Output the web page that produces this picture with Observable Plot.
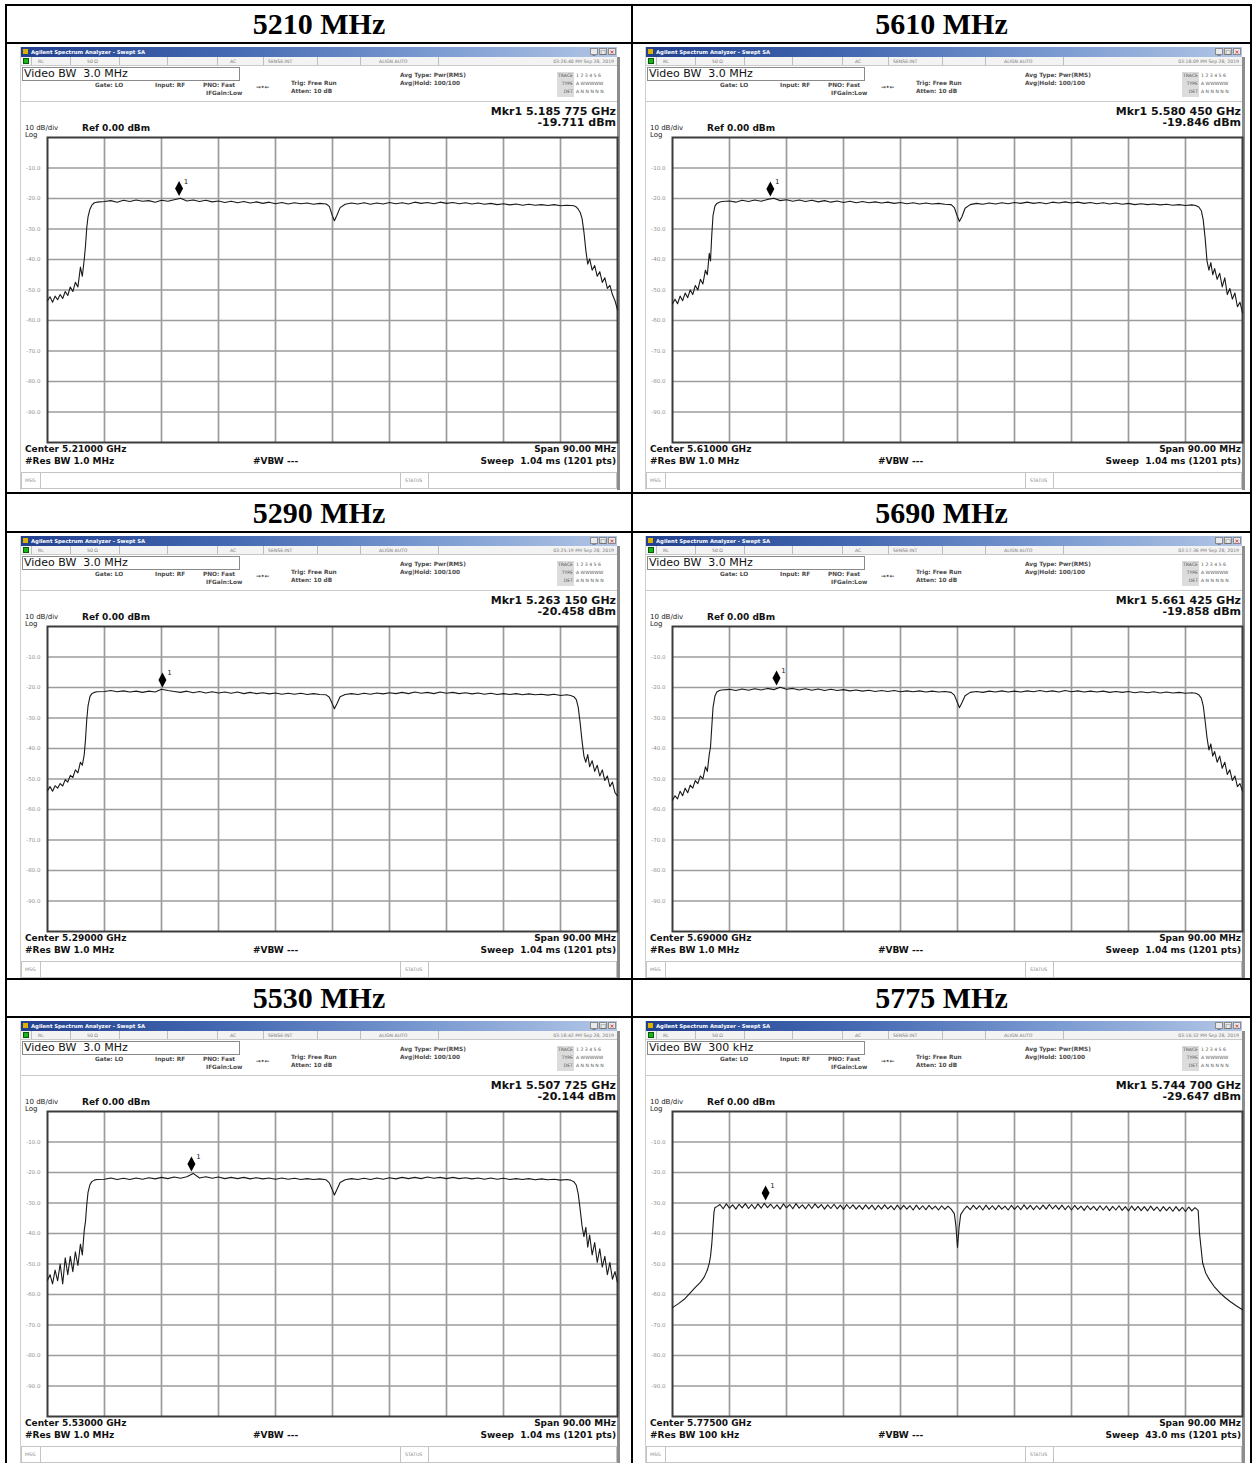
<!DOCTYPE html>
<html>
<head>
<meta charset="utf-8">
<script src="https://cdn.jsdelivr.net/npm/d3@7"></script>
<script src="https://cdn.jsdelivr.net/npm/@observablehq/plot@0.6"></script>
<style>
html,body{margin:0;padding:0;background:#fff;}
#page{position:relative;width:1253px;height:1463px;overflow:hidden;background:#fff;font-family:"DejaVu Sans","Liberation Sans",Arial,sans-serif;color:#111;}
.ln{position:absolute;background:#000;}
.hdr{position:absolute;width:500px;height:36px;line-height:36px;text-align:center;font-family:"Liberation Serif","Times New Roman",serif;font-weight:bold;font-size:30px;color:#000;}
.shot{position:absolute;width:600px;height:446px;background:#fff;overflow:hidden;}
.shot .a{position:absolute;white-space:nowrap;}
.le{position:absolute;left:0;top:3px;width:1px;height:443px;background:#cfcfcf;}
.tb{position:absolute;left:1px;top:3px;width:596px;height:10px;background:linear-gradient(90deg,#21408e 0%,#4569b2 35%,#7c9cd2 70%,#b3c6e6 100%);}
.tb .t{position:absolute;left:10px;top:2px;font-size:5.3px;line-height:6px;color:#fff;font-weight:bold;white-space:nowrap;}
.tb .ic{position:absolute;left:2px;top:2px;width:5px;height:5px;background:#e0b000;}
.tb .bt{position:absolute;top:1px;width:8px;height:7px;background:#e9e9e9;border:1px solid #8a8a8a;box-sizing:border-box;font-size:6px;line-height:5px;text-align:center;color:#333;}
.sr{position:absolute;left:1px;top:13px;width:596px;height:8px;background:#f3f3f3;border-bottom:1px solid #c9c9c9;}
.sr .c{position:absolute;top:0;height:8px;width:0;border-left:1px solid #bdbdbd;}
.sr .s{position:absolute;top:1.5px;font-size:4.6px;line-height:5px;color:#7a7a7a;white-space:nowrap;}
.gi{position:absolute;left:2px;top:1px;width:6px;height:6px;background:#19b419;border:1px solid #0a5a0a;box-sizing:border-box;}
.vbw{position:absolute;left:2px;top:23px;width:218px;height:14px;border:1px solid #8a8a8a;box-sizing:border-box;font-size:11px;line-height:12px;padding-left:1px;color:#111;white-space:nowrap;}
.sm{font-size:5.8px;line-height:6px;color:#4a4a4a;font-weight:bold;}
.tl{font-size:4.6px;line-height:6px;color:#555;}
.tg{position:absolute;left:537px;top:28px;width:17px;height:25px;background:#dcdcdc;}
.mk{font-size:11px;line-height:12px;font-weight:bold;color:#111;}
.md{font-size:9px;line-height:10px;font-weight:bold;color:#111;}
.mx{font-size:7px;line-height:8px;color:#222;}
.sep{position:absolute;left:1px;top:57px;width:596px;height:1px;background:#cacaca;}
.rb{position:absolute;left:597px;top:13px;width:3px;height:433px;background:#8d8d8d;}
.msg{position:absolute;left:1px;top:428px;width:596px;height:17px;border:1px solid #c4c4c4;box-sizing:border-box;background:#fff;}
.msg .s{position:absolute;font-size:4.6px;line-height:5px;color:#888;top:5px;}
.msg .c{position:absolute;top:0;height:15px;width:0;border-left:1px solid #c4c4c4;}
.pl{position:absolute;left:0;top:92px;}
</style>
</head>
<body>
<div id="page"></div>
<script>
// ---------------- data ----------------
const panelLabels = ["5210 MHz", "5610 MHz", "5290 MHz", "5690 MHz", "5530 MHz", "5775 MHz"];
const centerGHz = [5.21, 5.61, 5.29, 5.69, 5.53, 5.775];
const centerText = ["5.21000", "5.61000", "5.29000", "5.69000", "5.53000", "5.77500"];
const mkrGHz = [5.185775, 5.58045, 5.26315, 5.661425, 5.507725, 5.7447];
const mkrText = ["5.185 775", "5.580 450", "5.263 150", "5.661 425", "5.507 725", "5.744 700"];
const mkrDbm = [-19.711, -19.846, -20.458, -19.858, -20.144, -29.647];
const videoBW = ["3.0 MHz", "3.0 MHz", "3.0 MHz", "3.0 MHz", "3.0 MHz", "300 kHz"];
const resBW = ["1.0 MHz", "1.0 MHz", "1.0 MHz", "1.0 MHz", "1.0 MHz", "100 kHz"];
const sweepTime = ["1.04 ms", "1.04 ms", "1.04 ms", "1.04 ms", "1.04 ms", "43.0 ms"];
const stamps = ["03:26:40 PM Sep 28, 2019", "03:18:09 PM Sep 28, 2019", "03:25:19 PM Sep 28, 2019",
                "03:17:36 PM Sep 28, 2019", "03:18:42 PM Sep 28, 2019", "03:16:32 PM Sep 28, 2019"];
const spanText = "90.00 MHz";
const refText = "0.00 dBm";
const yTicks = [-10, -20, -30, -40, -50, -60, -70, -80, -90];
const xDivMHz = [-36, -27, -18, -9, 0, 9, 18, 27, 36];   // 9 MHz per division

// frequency offset from centre (MHz) of the read-off trace points
const sweepMHz = [
  -45, -44.6, -44.2, -43.8, -43.4, -43, -42.6, -42.2, -41.8, -41.4, -41, -40.6, -40.2, -39.8, -39.5, -39.2, -39, -38.8, -38.6, -38.3, -38, -37.6, -37.2,
  -36, -35, -34, -33, -32, -31, -30, -29, -28, -27, -26, -25, -24, -23, -22, -21, -20, -19, -18, -17, -16, -15, -14, -13, -12, -11, -10, -9, -8, -7, -6, -5, -4, -3, -2,
  -1, -0.5, 0, 0.3, 0.7, 1.2,
  2, 3, 4, 5, 6, 7, 8, 9, 10, 11, 12, 13, 14, 15, 16, 17, 18, 19, 20, 21, 22, 23, 24, 25, 26, 27, 28, 29, 30, 31, 32, 33, 34, 35, 36, 37,
  37.6, 38.1, 38.5, 38.8, 39.1, 39.4, 39.7, 40, 40.3, 40.6, 41, 41.4, 41.8, 42.2, 42.6, 43, 43.4, 43.8, 44.2, 44.6, 45
];
const dbm5210 = [
  -53.5, -52.2, -54.0, -52.0, -53.2, -51.5, -52.8, -50.5, -51.8, -49.0, -50.5, -47.5, -49.0, -42.5, -45.5, -40.0, -35.5, -29.5, -26.0, -23.5, -22.2, -21.4, -21.2,
  -21.0, -20.7, -21.2, -20.6, -21.0, -20.5, -20.9, -20.7, -21.2, -20.6, -20.9, -20.4, -19.9, -20.8, -20.5, -21.0, -20.6, -21.1, -20.8, -21.3, -20.9, -21.4, -21.0, -21.5, -21.1, -21.6, -21.2, -21.7, -21.3, -21.8, -21.4, -21.7, -21.5, -21.9, -21.6,
  -21.8, -22.6, -25.8, -27.3, -25.5, -23.0,
  -21.9, -21.5, -21.8, -21.4, -21.9, -21.5, -21.8, -21.3, -21.7, -21.4, -21.8, -21.2, -21.6, -21.3, -21.7, -21.2, -21.6, -21.3, -21.7, -21.4, -21.8, -21.5, -21.9, -21.6, -22.0, -21.7, -22.1, -21.8, -22.2, -21.9, -22.2, -22.0, -22.3, -22.0, -22.4, -22.2,
  -22.3, -22.4, -22.8, -23.5, -24.5, -26.5, -31.0, -37.0, -41.5, -39.8, -43.5, -42.0, -45.5, -44.0, -47.5, -46.0, -49.5, -48.5, -51.5, -53.5, -56.5
];
const dbm5610 = [
  -54.5, -53.0, -54.5, -52.0, -53.5, -51.0, -52.5, -50.0, -51.5, -48.5, -50.0, -46.5, -48.0, -43.5, -45.0, -38.0, -40.5, -32.0, -25.5, -22.5, -21.6, -21.2, -21.0,
  -20.8, -21.2, -20.6, -21.0, -20.5, -20.9, -20.3, -19.9, -20.7, -20.4, -20.9, -20.5, -21.0, -20.6, -21.1, -20.7, -21.2, -20.8, -21.3, -20.9, -21.4, -21.0, -21.4, -21.1, -21.5, -21.2, -21.6, -21.3, -21.7, -21.4, -21.8, -21.5, -21.8, -21.6, -21.9,
  -22.0, -23.0, -26.0, -27.5, -26.0, -23.2,
  -22.0, -21.6, -21.9, -21.5, -21.8, -21.4, -21.7, -21.3, -21.6, -21.2, -21.6, -21.3, -21.7, -21.2, -21.5, -21.1, -21.5, -21.2, -21.6, -21.3, -21.7, -21.4, -21.8, -21.5, -21.9, -21.6, -22.0, -21.7, -22.0, -21.8, -22.1, -21.9, -22.2, -22.0, -22.3, -22.1,
  -22.3, -22.8, -24.0, -27.0, -33.0, -40.5, -43.5, -41.0, -45.0, -43.0, -46.5, -44.5, -49.0, -46.0, -51.5, -49.5, -53.0, -51.0, -55.5, -54.0, -57.5
];
const dbm5290 = [
  -53.8, -52.5, -54.0, -52.2, -53.0, -51.5, -52.3, -50.2, -51.0, -48.8, -49.5, -47.0, -48.0, -44.5, -45.5, -42.0, -37.0, -30.5, -26.0, -23.0, -22.0, -21.6, -21.4,
  -21.3, -21.0, -21.4, -21.1, -21.5, -21.2, -21.6, -21.2, -21.5, -20.6, -21.0, -21.3, -21.6, -21.2, -21.7, -21.3, -21.8, -21.4, -21.8, -21.5, -21.9, -21.5, -22.0, -21.6, -22.0, -21.7, -22.1, -21.8, -22.2, -21.9, -22.2, -21.9, -22.3, -22.0, -22.3,
  -22.4, -23.2, -25.5, -27.0, -25.3, -23.0,
  -22.3, -22.0, -22.3, -21.9, -22.2, -21.8, -22.1, -21.7, -22.0, -21.6, -22.0, -21.5, -21.9, -21.6, -22.0, -21.5, -21.9, -21.6, -22.0, -21.7, -22.1, -21.8, -22.2, -21.9, -22.3, -22.0, -22.3, -22.0, -22.4, -22.1, -22.4, -22.2, -22.5, -22.2, -22.6, -22.4,
  -22.6, -23.0, -24.0, -26.5, -31.5, -37.5, -42.5, -44.5, -42.0, -46.0, -44.0, -47.5, -45.5, -49.0, -47.0, -50.5, -49.0, -52.5, -51.0, -54.5, -55.5
];
const dbm5690 = [
  -57.0, -55.5, -56.5, -54.0, -55.5, -53.0, -54.5, -52.0, -53.0, -50.5, -51.5, -49.0, -50.0, -46.0, -47.5, -42.0, -39.5, -33.0, -26.5, -22.8, -21.5, -21.0, -20.8,
  -20.6, -21.0, -20.5, -20.9, -20.4, -20.8, -20.3, -20.7, -19.9, -20.6, -20.3, -20.8, -20.4, -20.9, -20.5, -21.0, -20.6, -21.0, -20.7, -21.1, -20.8, -21.2, -20.9, -21.3, -21.0, -21.3, -21.0, -21.4, -21.1, -21.4, -21.1, -21.5, -21.2, -21.5, -21.3,
  -21.6, -22.5, -25.0, -26.6, -25.0, -22.7,
  -21.6, -21.3, -21.6, -21.2, -21.5, -21.1, -21.5, -21.2, -21.5, -21.1, -21.4, -21.0, -21.4, -21.1, -21.5, -21.0, -21.4, -21.1, -21.5, -21.2, -21.5, -21.2, -21.6, -21.3, -21.6, -21.3, -21.7, -21.4, -21.7, -21.4, -21.8, -21.5, -21.8, -21.6, -21.9, -21.7,
  -21.9, -22.4, -23.5, -26.0, -31.0, -36.5, -40.5, -38.5, -42.5, -41.0, -44.5, -42.5, -46.5, -44.5, -48.5, -47.0, -50.5, -49.0, -52.5, -51.5, -54.0
];
const dbm5530 = [
  -55.3, -53.5, -56.5, -52.0, -55.5, -50.0, -56.5, -48.0, -53.5, -47.5, -52.5, -46.0, -50.5, -43.5, -47.0, -39.0, -36.0, -30.5, -26.5, -24.0, -23.0, -22.5, -22.3,
  -22.2, -21.8, -22.3, -21.9, -22.3, -21.8, -22.2, -21.7, -22.1, -21.6, -22.0, -21.5, -21.9, -21.4, -20.3, -21.8, -21.4, -21.9, -21.5, -22.0, -21.6, -22.0, -21.6, -22.1, -21.7, -22.1, -21.8, -22.2, -21.8, -22.2, -21.9, -22.3, -22.0, -22.3, -22.1,
  -22.4, -23.4, -25.8, -27.4, -25.6, -23.3,
  -22.4, -22.0, -22.3, -21.9, -22.3, -21.8, -22.2, -21.7, -22.1, -21.6, -22.0, -21.6, -22.0, -21.5, -21.9, -21.6, -22.0, -21.6, -22.0, -21.7, -22.1, -21.8, -22.2, -21.8, -22.2, -21.9, -22.3, -22.0, -22.3, -22.0, -22.4, -22.1, -22.4, -22.2, -22.5, -22.3,
  -22.5, -23.0, -24.2, -27.0, -32.0, -37.5, -41.0, -38.0, -44.5, -40.5, -47.0, -43.0, -49.5, -45.0, -51.0, -47.5, -53.5, -49.5, -55.0, -52.5, -56.0
];
// 5775 MHz trace: [offset MHz, dBm]
const trace5775 = [
  [-45, -64.3], [-44, -62.9], [-43, -61.3], [-42.2, -59.5], [-41.4, -57.7], [-40.6, -56.0], [-40, -54.3], [-39.5, -52.0], [-39.2, -49.8], [-39, -47.5], [-38.8, -43.5], [-38.6, -37.5], [-38.45, -33.0], [-38.3, -31.5],
  [-38, -31.2], [-37.5, -30.5], [-37, -31.9], [-36.5, -30.3], [-36, -31.7], [-35.5, -30.6], [-35, -32.0], [-34.5, -30.4], [-34, -31.6], [-33.5, -30.2],
  [-33, -31.8], [-32.5, -30.5], [-32, -31.9], [-31.5, -30.3], [-31, -31.7], [-30.5, -30.1], [-30, -31.5], [-29.5, -30.4], [-29, -31.8], [-28.5, -30.6],
  [-28, -32.0], [-27.5, -30.3], [-27, -31.6], [-26.5, -30.5], [-26, -31.9], [-25.5, -30.2], [-25, -31.7], [-24.5, -30.6], [-24, -31.9], [-23.5, -30.4],
  [-23, -31.8], [-22.5, -30.3], [-22, -31.6], [-21.5, -30.5], [-21, -32.0], [-20.5, -30.6], [-20, -31.8], [-19.5, -30.4], [-19, -31.9], [-18.5, -30.7],
  [-18, -32.1], [-17.5, -30.5], [-17, -31.8], [-16.5, -30.6], [-16, -32.0], [-15.5, -30.8], [-15, -32.1], [-14.5, -30.6], [-14, -31.9], [-13.5, -30.7],
  [-13, -32.2], [-12.5, -30.8], [-12, -32.0], [-11.5, -30.6], [-11, -31.9], [-10.5, -30.9], [-10, -32.2], [-9.5, -30.7], [-9, -32.1], [-8.5, -30.8],
  [-8, -32.0], [-7.5, -30.9], [-7, -32.3], [-6.5, -30.7], [-6, -32.1], [-5.5, -30.9], [-5, -32.2], [-4.5, -30.8], [-4, -32.0], [-3.5, -31.0],
  [-3, -32.3], [-2.5, -30.9], [-2, -32.1], [-1.5, -31.0],
  [-1, -32.0], [-0.5, -33.5], [-0.25, -37.5], [0, -44.6], [0.25, -38.0], [0.5, -33.8], [1, -32.2],
  [1.5, -31.0], [2, -32.2], [2.5, -30.8], [3, -32.0], [3.5, -30.9], [4, -32.3], [4.5, -30.7], [5, -32.1], [5.5, -30.9], [6, -32.2],
  [6.5, -30.8], [7, -32.0], [7.5, -31.0], [8, -32.3], [8.5, -30.8], [9, -32.1], [9.5, -30.9], [10, -32.2], [10.5, -30.6], [11, -32.0],
  [11.5, -30.8], [12, -32.2], [12.5, -30.9], [13, -32.1], [13.5, -30.7], [14, -32.0], [14.5, -30.5], [15, -31.9], [15.5, -30.8], [16, -32.1],
  [16.5, -30.7], [17, -32.2], [17.5, -30.9], [18, -32.3], [18.5, -30.8], [19, -32.1], [19.5, -31.0], [20, -32.4], [20.5, -30.9], [21, -32.2],
  [21.5, -31.1], [22, -32.4], [22.5, -30.9], [23, -32.3], [23.5, -31.0], [24, -32.5], [24.5, -31.1], [25, -32.3], [25.5, -30.9], [26, -32.4],
  [26.5, -31.2], [27, -32.6], [27.5, -31.0], [28, -32.4], [28.5, -31.1], [29, -32.5], [29.5, -31.2], [30, -32.6], [30.5, -31.0], [31, -32.4],
  [31.5, -31.3], [32, -32.7], [32.5, -31.2], [33, -32.5], [33.5, -31.3], [34, -32.7], [34.5, -31.2], [35, -32.6], [35.5, -31.4], [36, -32.8],
  [36.5, -31.3], [37, -32.6], [37.5, -31.5], [38, -32.4],
  [38.2, -39.7], [38.7, -49.6], [39.2, -53.0], [39.8, -55.2], [40.5, -57.3], [41.4, -59.4], [42.2, -60.9], [43, -62.2], [44, -63.7], [45, -65.0]
];

// ---------------- build ----------------
[dbm5210, dbm5610, dbm5290, dbm5690, dbm5530].forEach((a, k) => {
  if (a.length !== sweepMHz.length) throw new Error("trace " + k + " has " + a.length + " points, expected " + sweepMHz.length);
});
const traces = [dbm5210, dbm5610, dbm5290, dbm5690, dbm5530].map(a => sweepMHz.map((f, i) => ({f, p: a[i]})));
traces.push(trace5775.map(([f, p]) => ({f, p})));

const page = document.getElementById("page");
const colLeft = [20, 645];
const rowTop = [44, 533, 1018];
const hdrX = [69, 691.5];
const hdrTop = [6, 494.5, 980];

const markerSymbol = {
  draw(ctx) {
    ctx.moveTo(0, -1.5); ctx.lineTo(4, -9); ctx.lineTo(0, -16.5); ctx.lineTo(-4, -9); ctx.closePath();
  }
};

function spectrum(i) {
  const mk = {f: (mkrGHz[i] - centerGHz[i]) * 1000, p: mkrDbm[i]};
  return Plot.plot({
    width: 600, height: 309,
    marginLeft: 27, marginRight: 3, marginTop: 1, marginBottom: 3,
    x: {domain: [-45, 45], axis: null},
    y: {domain: [-100, 0]},
    style: {background: "transparent", overflow: "visible", fontFamily: "DejaVu Sans, Liberation Sans, sans-serif"},
    marks: [
      Plot.gridX(xDivMHz, {stroke: "#9c9c9c", strokeOpacity: 1, strokeWidth: 1.7}),
      Plot.gridY(yTicks, {stroke: "#9c9c9c", strokeOpacity: 1, strokeWidth: 1.7}),
      Plot.axisY(yTicks, {tickSize: 0, tickPadding: 7, tickFormat: d => d.toFixed(1), fontSize: 5.5, fill: "#8f8f8f", label: null}),
      Plot.frame({stroke: "#3c3c3c", strokeWidth: 2}),
      Plot.line(traces[i], {x: "f", y: "p", stroke: "#1a1a1a", strokeWidth: 1.1}),
      Plot.dot([mk], {x: "f", y: "p", symbol: markerSymbol, fill: "#000", stroke: "none"}),
      Plot.text([mk], {x: "f", y: "p", text: () => "1", dx: 7, dy: -16, fontSize: 7, fill: "#222"})
    ]
  });
}

function shotHTML(i) {
  return `
  <div class="le"></div>
  <div class="tb"><div class="ic"></div><div class="t">Agilent Spectrum Analyzer - Swept SA</div>
    <div class="bt" style="left:569px">_</div><div class="bt" style="left:578px">&#9633;</div><div class="bt" style="left:587px;color:#c00">&#215;</div></div>
  <div class="sr"><div class="gi"></div>
    <div class="c" style="left:10px"></div><div class="s" style="left:17px">RL</div>
    <div class="c" style="left:49px"></div><div class="s" style="left:66px">50 &#937;</div>
    <div class="c" style="left:98px"></div><div class="c" style="left:146px"></div><div class="c" style="left:196px"></div>
    <div class="s" style="left:209px">AC</div>
    <div class="c" style="left:242px"></div><div class="s" style="left:247px">SENSE:INT</div>
    <div class="c" style="left:296px"></div><div class="c" style="left:339px"></div>
    <div class="s" style="left:358px">ALIGN AUTO</div>
    <div class="c" style="left:417px"></div>
    <div class="s" style="right:3px">${stamps[i]}</div>
  </div>
  <div class="vbw">Video BW&nbsp; ${videoBW[i]}</div>
  <div class="a sm" style="left:75px;top:38px">Gate: LO</div>
  <div class="a sm" style="left:135px;top:38px">Input: RF</div>
  <div class="a sm" style="left:183px;top:38px">PNO: Fast</div>
  <div class="a sm" style="left:186px;top:46px">IFGain:Low</div>
  <div class="a sm" style="left:236px;top:40px">&#8594;&#8226;&#8592;</div>
  <div class="a sm" style="left:271px;top:36px">Trig: Free Run</div>
  <div class="a sm" style="left:271px;top:44px">Atten: 10 dB</div>
  <div class="a sm" style="left:380px;top:28px">Avg Type: Pwr(RMS)</div>
  <div class="a sm" style="left:380px;top:36px">Avg|Hold: 100/100</div>
  <div class="tg"></div>
  <div class="a tl" style="right:47px;top:29px">TRACE</div>
  <div class="a tl" style="right:47px;top:37px">TYPE</div>
  <div class="a tl" style="right:47px;top:45px">DET</div>
  <div class="a tl" style="left:556px;top:29px">1 2 3 4 5 6</div>
  <div class="a tl" style="left:556px;top:37px">A WWWWW</div>
  <div class="a tl" style="left:556px;top:45px">A N N N N N</div>
  <div class="sep"></div>
  <div class="a mk" style="right:4px;top:62px">Mkr1 ${mkrText[i]} GHz</div>
  <div class="a mk" style="right:4px;top:73px">${mkrDbm[i].toFixed(3)} dBm</div>
  <div class="a mx" style="left:5px;top:80px">10 dB/div</div>
  <div class="a md" style="left:62px;top:79px">Ref ${refText}</div>
  <div class="a mx" style="left:5px;top:87px">Log</div>
  <div class="a md" style="left:5px;top:400px">Center ${centerText[i]} GHz</div>
  <div class="a md" style="left:5px;top:412px">#Res BW ${resBW[i]}</div>
  <div class="a md" style="left:233px;top:412px">#VBW ---</div>
  <div class="a md" style="right:4px;top:400px">Span ${spanText}</div>
  <div class="a md" style="right:4px;top:412px">Sweep&nbsp; ${sweepTime[i]} (1201 pts)</div>
  <div class="msg"><div class="s" style="left:3px">MSG</div><div class="c" style="left:18px"></div>
    <div class="c" style="left:378px"></div><div class="s" style="left:383px">STATUS</div><div class="c" style="left:406px"></div></div>
  <div class="rb"></div>`;
}

for (let i = 0; i < 6; i++) {
  const r = Math.floor(i / 2), c = i % 2;
  const h = document.createElement("div");
  h.className = "hdr";
  h.style.left = hdrX[c] + "px";
  h.style.top = hdrTop[r] + "px";
  h.textContent = panelLabels[i];
  page.appendChild(h);

  const s = document.createElement("div");
  s.className = "shot";
  s.style.left = colLeft[c] + "px";
  s.style.top = rowTop[r] + "px";
  s.innerHTML = shotHTML(i);
  const svg = spectrum(i);
  const holder = document.createElement("div");
  holder.className = "pl";
  holder.appendChild(svg);
  s.appendChild(holder);
  page.appendChild(s);
}

// table rules
const hLines = [4, 42, 492, 531, 978, 1016];
hLines.forEach(y => {
  const d = document.createElement("div");
  d.className = "ln";
  Object.assign(d.style, {left: "5px", top: y + "px", width: "1247px", height: "2px"});
  page.appendChild(d);
});
[5, 631, 1250].forEach(x => {
  const d = document.createElement("div");
  d.className = "ln";
  Object.assign(d.style, {left: x + "px", top: "4px", width: "2px", height: "1459px"});
  page.appendChild(d);
});
</script>
</body>
</html>
